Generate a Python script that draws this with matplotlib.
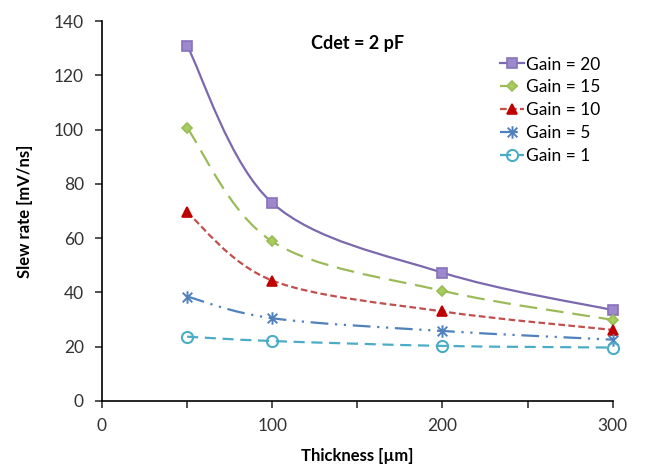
import numpy as np
import matplotlib
matplotlib.use("Agg")
import matplotlib.pyplot as plt
from matplotlib.path import Path
from matplotlib.patches import PathPatch
from matplotlib.lines import Line2D

plt.rcParams['font.family'] = ['Lato', 'DejaVu Sans']

# Data =============================================
thickness = [50, 100, 200, 300]  # um
gain_20 = [131, 73, 47.3, 33.5]
gain_15 = [100.7, 58.8, 40.6, 29.9]
gain_10 = [69.5, 44.4, 33.0, 26.2]
gain_5 = [38.5, 30.5, 25.8, 22.6]
gain_1 = [23.7, 22.1, 20.3, 19.7]
labels = ["Gain = 20", "Gain = 15", "Gain = 10", "Gain = 5", "Gain = 1"]

# asterisk marker (x with a vertical bar), Excel style
star = Path([(-1, -1), (1, 1), (-1, 1), (1, -1), (0, -1.3), (0, 1.3)],
            [Path.MOVETO, Path.LINETO, Path.MOVETO, Path.LINETO,
             Path.MOVETO, Path.LINETO])

# styles: line color, marker, marker face, marker edge, dash pattern, marker size, edge width
styles = [
    ("#7B68AE", "s", "#9D88CC", "#8672BA", "-", 7.5, 1.2),
    ("#9BBB59", "D", "#A6CE5A", "#9BBB59", (0, (8, 4)), 5.5, 1.2),
    ("#C0504D", "^", "#C00000", "#C00000", (0, (3, 1.5)), 7.5, 1.2),
    ("#4F81BD", star, "#4F81BD", "#4F81BD", (0, (8, 3, 1, 3, 1, 3)), 9, 1.4),
    ("#4BACC6", "o", "none", "#4BACC6", (0, (5, 3)), 8, 1.5),
]
series = [gain_20, gain_15, gain_10, gain_5, gain_1]


def smooth_path(x, y):
    # Excel-like smoothed line: cubic bezier, Catmull-Rom control points
    x = np.asarray(x, float)
    y = np.asarray(y, float)
    verts = [(x[0], y[0])]
    codes = [Path.MOVETO]
    n = len(x)
    for i in range(n - 1):
        p0 = (x[max(i - 1, 0)], y[max(i - 1, 0)])
        p1 = (x[i], y[i])
        p2 = (x[i + 1], y[i + 1])
        p3 = (x[min(i + 2, n - 1)], y[min(i + 2, n - 1)])
        c1 = (p1[0] + (p2[0] - p0[0]) / 6, p1[1] + (p2[1] - p0[1]) / 6)
        c2 = (p2[0] - (p3[0] - p1[0]) / 6, p2[1] - (p3[1] - p1[1]) / 6)
        verts += [c1, c2, p2]
        codes += [Path.CURVE4] * 3
    return Path(verts, codes)


fig = plt.figure(figsize=(6.45, 4.69), dpi=100)
ax = fig.add_axes([0.158, 0.145, 0.792, 0.81])

handles = []
for vals, lab, st in zip(series, labels, styles):
    col, mk, mfc, mec, ls, ms, mew = st
    patch = PathPatch(smooth_path(thickness, vals), facecolor="none",
                      edgecolor=col, lw=1.6, linestyle=ls, zorder=2)
    ax.add_patch(patch)
    ax.plot(thickness, vals, linestyle="none", marker=mk, markersize=ms,
            markerfacecolor=mfc, markeredgecolor=mec, markeredgewidth=mew,
            zorder=3, clip_on=False)
    handles.append(Line2D([], [], color=col, lw=1.6, linestyle=ls, marker=mk,
                          markersize=ms, markerfacecolor=mfc,
                          markeredgecolor=mec, markeredgewidth=mew))

ax.set_xlim(0, 300)
ax.set_ylim(0, 140)
ax.set_xticks(np.arange(0, 301, 50))
ax.set_xticklabels(["0", "", "100", "", "200", "", "300"])
ax.set_yticks(np.arange(0, 141, 20))
ax.spines['top'].set_visible(False)
ax.spines['right'].set_visible(False)
ax.spines['left'].set_linewidth(1.2)
ax.spines['bottom'].set_linewidth(1.2)
ax.tick_params(labelsize=12.5, length=5, width=1.2, colors="#333333",
               labelcolor="#333333")
ax.tick_params(axis="y", pad=8)
ax.tick_params(axis="x", pad=7)

ax.set_xlabel("Thickness [\u00b5m]", fontsize=12, fontweight="bold", labelpad=10)
ax.set_ylabel("Slew rate [mV/ns]", fontsize=12, fontweight="bold", labelpad=15)
ax.text(0.50, 0.94, "Cdet = 2 pF", transform=ax.transAxes, fontsize=13,
        fontweight="bold", ha="center", va="center")

ax.legend(handles, labels, loc="upper left", bbox_to_anchor=(0.765, 0.925),
          frameon=False, fontsize=12.5, handlelength=1.4, handletextpad=0.1,
          labelspacing=0.4, borderaxespad=0)

plt.savefig("out.png", dpi=100)
